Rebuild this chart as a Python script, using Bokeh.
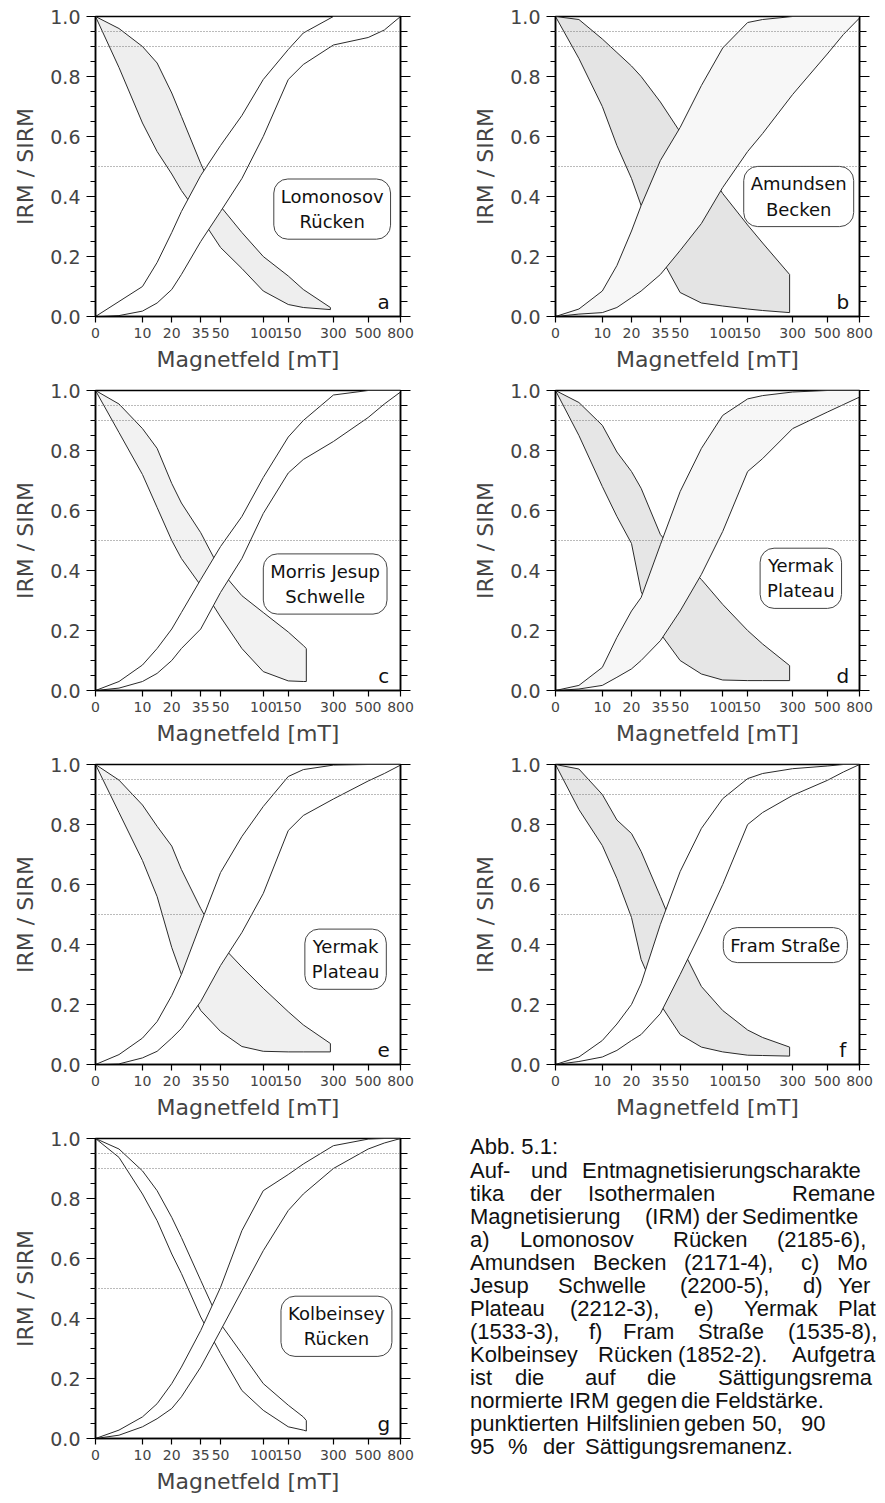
import numpy as np
from bokeh.plotting import figure
from bokeh.models import Range1d, FixedTicker, LinearAxis, PrintfTickFormatter, Label, Span, Div
from bokeh.layouts import column, row
from bokeh.embed import file_html
from bokeh.resources import INLINE

# ---------------- axis definitions ----------------
TICK_MT = [0, 10, 20, 35, 50, 100, 150, 300, 500, 800]
TICK_LABELS = ["0", "10", "20", "35", "50", "100", "150", "300", "500", "800"]
TICK_POS = [0, 154, 250, 345, 410, 550, 632, 780, 894, 1000]  # non-linear field axis layout
Y_TICKS = [0.0, 0.2, 0.4, 0.6, 0.8, 1.0]
HELP_LEVELS = [0.5, 0.9, 0.95]

# ---------------- data (field in mT, IRM/SIRM) ----------------
FIELD_ACQ = [0, 5, 10, 15, 20, 25, 35, 50, 75, 100, 150, 200, 300, 500, 650, 800]
FIELD_DEM_LONG = [0, 5, 10, 15, 20, 25, 35, 50, 75, 100, 150, 200, 290]
FIELD_DEM_SHORT = [0, 5, 10, 15, 20, 25, 35, 50, 75, 100, 150, 200, 210]

# a) Lomonosov Ruecken
a_acq_hi = [0, .05, .10, .18, .28, .35, .47, .57, .67, .79, .89, .945, 1.0, 1.0, 1.0, 1.0]
a_acq_lo = [0, .003, .018, .045, .09, .14, .25, .35, .46, .60, .79, .84, .905, .93, .955, 1.0]
a_dem_hi = [1.0, .96, .90, .845, .745, .667, .51, .367, .28, .20, .135, .09, .03]
a_dem_lo = [1.0, .83, .645, .55, .475, .42, .33, .23, .16, .085, .04, .03, .023]
# b) Amundsen Becken
b_acq_hi = [0, .025, .085, .17, .285, .37, .52, .63, .77, .895, .98, .99, 1.0, 1.0, 1.0, 1.0]
b_acq_lo = [0, .008, .013, .03, .063, .085, .14, .22, .31, .43, .55, .61, .74, .875, .94, .995]
b_dem_hi = [1.0, .99, .925, .88, .835, .80, .715, .615, .52, .41, .305, .245, .14]
b_dem_lo = [1.0, .86, .70, .57, .46, .37, .20, .08, .045, .035, .025, .02, .013]
# c) Morris Jesup Schwelle
c_acq_hi = [0, .03, .085, .14, .205, .26, .37, .48, .58, .71, .845, .90, .985, 1.0, 1.0, 1.0]
c_acq_lo = [0, .008, .03, .057, .10, .14, .205, .327, .44, .59, .725, .77, .83, .91, .955, .995]
c_dem_hi = [1.0, .955, .873, .807, .69, .625, .526, .40, .316, .26, .195, .15, .14]
c_dem_lo = [1.0, .86, .72, .61, .50, .44, .35, .245, .14, .063, .032, .03, .03]
# d) Yermak Plateau (2212-3)
d_acq_hi = [0, .017, .077, .177, .265, .31, .486, .663, .807, .917, .972, .983, .995, 1.0, 1.0, 1.0]
d_acq_lo = [0, .005, .017, .044, .072, .10, .166, .265, .387, .53, .73, .773, .873, .928, .953, .978]
d_dem_hi = [1.0, .96, .884, .795, .73, .674, .52, .44, .37, .287, .20, .155, .083]
d_dem_lo = [1.0, .85, .68, .58, .49, .33, .19, .10, .055, .035, .033, .033, .033]
# e) Yermak Plateau (1533-3)
e_acq_hi = [0, .033, .088, .143, .23, .30, .47, .64, .76, .86, .96, .983, .998, 1.0, 1.0, 1.0]
e_acq_lo = [0, .002, .022, .044, .088, .12, .21, .33, .44, .57, .78, .83, .885, .945, .97, .998]
e_dem_hi = [1.0, .948, .865, .794, .728, .65, .52, .40, .325, .254, .176, .132, .07]
e_dem_lo = [1.0, .84, .68, .56, .39, .30, .18, .11, .06, .044, .042, .042, .042]
# f) Fram Strasse
f_acq_hi = [0, .025, .08, .135, .20, .27, .467, .643, .787, .886, .953, .97, .986, .995, 1.0, 1.0]
f_acq_lo = [0, .01, .025, .047, .08, .10, .17, .30, .445, .60, .80, .84, .897, .947, .975, 1.0]
f_dem_hi = [1.0, .985, .90, .815, .77, .71, .56, .40, .26, .18, .115, .09, .058]
f_dem_lo = [1.0, .85, .73, .62, .49, .35, .20, .10, .058, .042, .031, .03, .028]
# g) Kolbeinsey Ruecken
g_acq_hi = [0, .028, .072, .116, .183, .238, .36, .504, .693, .826, .88, .915, .976, .998, 1.0, 1.0]
g_acq_lo = [0, .011, .039, .066, .10, .139, .238, .36, .493, .626, .76, .815, .90, .965, .985, 1.0]
g_dem_hi = [1.0, .965, .892, .826, .737, .67, .527, .382, .283, .183, .111, .072, .06]
g_dem_lo = [1.0, .937, .815, .726, .615, .55, .405, .283, .16, .094, .039, .028, .025]

PANEL_NAMES = ["Lomonosov\nRücken", "Amundsen\nBecken", "Morris Jesup\nSchwelle",
               "Yermak\nPlateau", "Yermak\nPlateau", "Fram Straße", "Kolbeinsey\nRücken"]
PANEL_LETTERS = ["a", "b", "c", "d", "e", "f", "g"]

# caption as it is visible in the (right-cropped) reference
CAPTION_WORDS = [
    ["Abb. 5.1:"],
    ["Auf-", "und", "Entmagnetisierungscharakte"],
    ["tika", "der", "Isothermalen", "Remane"],
    ["Magnetisierung", "(IRM)", "der", "Sedimentke"],
    ["a)", "Lomonosov", "Rücken", "(2185-6),"],
    ["Amundsen", "Becken", "(2171-4),", "c)", "Mo"],
    ["Jesup", "Schwelle", "(2200-5),", "d)", "Yer"],
    ["Plateau", "(2212-3),", "e)", "Yermak", "Plat"],
    ["(1533-3),", "f)", "Fram", "Straße", "(1535-8),"],
    ["Kolbeinsey", "Rücken", "(1852-2).", "Aufgetra"],
    ["ist", "die", "auf", "die", "Sättigungsrema"],
    ["normierte", "IRM", "gegen", "die", "Feldstärke."],
    ["punktierten", "Hilfslinien", "geben", "50,", "90"],
    ["95", "%", "der", "Sättigungsremanenz."],
]
# word start positions in page pixels (justified layout of the caption)
CAPTION_X = [
    [465],
    [465, 526, 577],
    [465, 525, 583, 787],
    [465, 640, 701, 737],
    [465, 515, 668, 772],
    [465, 588, 679, 796, 832],
    [465, 553, 675, 798, 833],
    [465, 565, 689, 739, 833],
    [465, 584, 618, 693, 783],
    [465, 593, 673, 787],
    [465, 510, 580, 642, 713],
    [465, 564, 611, 676, 710],
    [465, 581, 679, 747, 796],
    [465, 503, 538, 580],
]

FONT = "DejaVu Sans"
LINE_C = "#2a2a2a"


def fpos(mt):
    return np.interp(np.asarray(mt, dtype=float), TICK_MT, TICK_POS)


def make_panel(acq_hi, acq_lo, dem_hi, dem_lo, dem_field, name, letter, box_xy,
               dem_fill, acq_fill, left_col):
    W = 442 if left_col else 443
    p = figure(width=W, height=374, x_range=Range1d(0, 1000), y_range=Range1d(0, 1),
               output_backend="svg", toolbar_location=None, title=None,
               x_axis_type=None, y_axis_type=None,
               min_border_left=95 if left_col else 113,
               min_border_right=42 if left_col else 26,
               min_border_top=16, min_border_bottom=58)
    p.grid.visible = False
    p.outline_line_color = "black"
    p.outline_line_width = 1.5
    p.background_fill_color = "white"
    p.border_fill_color = "white"

    xa = LinearAxis(ticker=FixedTicker(ticks=TICK_POS),
                    major_label_overrides={tp: lab for tp, lab in zip(TICK_POS, TICK_LABELS)},
                    axis_label="Magnetfeld [mT]")
    xa.major_tick_out = 6
    xa.major_tick_in = 0
    xa.major_label_standoff = 5
    xa.axis_label_standoff = 6
    xa.major_label_text_font = FONT
    xa.major_label_text_font_size = "14px"
    xa.axis_label_text_font = FONT
    xa.axis_label_text_font_size = "22px"
    xa.axis_label_text_font_style = "normal"
    xa.axis_line_width = 1.5
    xa.major_tick_line_width = 1.2
    p.add_layout(xa, "below")

    minor = [round(0.05 * i, 2) for i in range(21)]
    ya = LinearAxis(ticker=FixedTicker(ticks=Y_TICKS, minor_ticks=minor),
                    formatter=PrintfTickFormatter(format="%.1f"), axis_label="IRM / SIRM")
    ya.major_tick_out = 9
    ya.major_tick_in = 0
    ya.minor_tick_out = 5
    ya.minor_tick_in = 0
    ya.major_label_standoff = 6
    ya.axis_label_standoff = 9
    ya.major_label_text_font = FONT
    ya.major_label_text_font_size = "19px"
    ya.axis_label_text_font = FONT
    ya.axis_label_text_font_size = "22px"
    ya.axis_label_text_font_style = "normal"
    ya.axis_line_width = 1.5
    ya.major_tick_line_width = 1.2
    p.add_layout(ya, "left")

    ra = LinearAxis(ticker=FixedTicker(ticks=Y_TICKS, minor_ticks=minor))
    ra.major_tick_out = 10
    ra.major_tick_in = 0
    ra.minor_tick_out = 7
    ra.minor_tick_in = 0
    ra.major_label_text_color = None
    ra.major_label_standoff = 0
    ra.axis_line_width = 1.5
    ra.major_tick_line_width = 1.2
    p.add_layout(ra, "right")

    # demagnetisation band (stippled in the original)
    dx = fpos(dem_field)
    p.patch(np.concatenate([dx, dx[::-1]]),
            np.concatenate([np.asarray(dem_hi), np.asarray(dem_lo)[::-1]]),
            fill_color=dem_fill, line_color=LINE_C, line_width=1)
    # acquisition band
    ax_ = fpos(FIELD_ACQ)
    p.patch(np.concatenate([ax_, ax_[::-1]]),
            np.concatenate([np.asarray(acq_hi), np.asarray(acq_lo)[::-1]]),
            fill_color=acq_fill, line_color=LINE_C, line_width=1)

    for lv in HELP_LEVELS:
        p.add_layout(Span(location=lv, dimension="width", line_color="#777777",
                          line_dash="1 2", line_width=1))

    p.add_layout(Label(x=box_xy[0], y=box_xy[1], text=name, text_align="center",
                       text_baseline="middle", text_font=FONT, text_font_size="18px",
                       text_color="#111111", background_fill_color="white",
                       border_line_color="#444444", border_line_width=1,
                       border_radius=14, padding=7))
    p.add_layout(Label(x=945, y=0.05, text=letter, text_align="center",
                       text_baseline="middle", text_font=FONT, text_font_size="20px",
                       text_color="#111111"))
    return p


DEM_FILLS = ["#eeeeee", "#e4e4e4", "#f2f2f2", "#e6e6e6", "#f0f0f0", "#e6e6e6", "white"]
ACQ_FILLS = ["white", "#f7f7f7", "white", "#f7f7f7", "white", "white", "white"]
BOX_XY = [(776, 0.358), (800, 0.40), (753, 0.355), (807, 0.374), (820, 0.351), (756, 0.398), (790, 0.374)]

series = [
    (a_acq_hi, a_acq_lo, a_dem_hi, a_dem_lo, FIELD_DEM_LONG),
    (b_acq_hi, b_acq_lo, b_dem_hi, b_dem_lo, FIELD_DEM_LONG),
    (c_acq_hi, c_acq_lo, c_dem_hi, c_dem_lo, FIELD_DEM_SHORT),
    (d_acq_hi, d_acq_lo, d_dem_hi, d_dem_lo, FIELD_DEM_LONG),
    (e_acq_hi, e_acq_lo, e_dem_hi, e_dem_lo, FIELD_DEM_LONG),
    (f_acq_hi, f_acq_lo, f_dem_hi, f_dem_lo, FIELD_DEM_LONG),
    (g_acq_hi, g_acq_lo, g_dem_hi, g_dem_lo, FIELD_DEM_SHORT),
]

panels = []
for i, s in enumerate(series):
    panels.append(make_panel(*s, PANEL_NAMES[i], PANEL_LETTERS[i], BOX_XY[i],
                             DEM_FILLS[i], ACQ_FILLS[i], left_col=(i % 2 == 0)))

# caption cell (HTML text, words placed as in the justified original)
spans = []
for li, (words, xs) in enumerate(zip(CAPTION_WORDS, CAPTION_X)):
    top = 9.4 + 23.08 * li
    for w, x in zip(words, xs):
        spans.append('<span style="position:absolute;left:%dpx;top:%.1fpx;">%s</span>'
                     % (x - 442, top, w))
cap_html = ('<div style="position:relative;width:443px;height:374px;overflow:hidden;'
            'font-family:\'Liberation Sans\',Arial,sans-serif;font-size:22px;line-height:1;'
            'color:#111111;white-space:nowrap;">' + "".join(spans) + '</div>')
cap = Div(text=cap_html, width=443, height=374)

layout = column(row(panels[0], panels[1]), row(panels[2], panels[3]),
                row(panels[4], panels[5]), row(panels[6], cap))

open("out.html", "w", encoding="utf-8").write(file_html(layout, INLINE))
